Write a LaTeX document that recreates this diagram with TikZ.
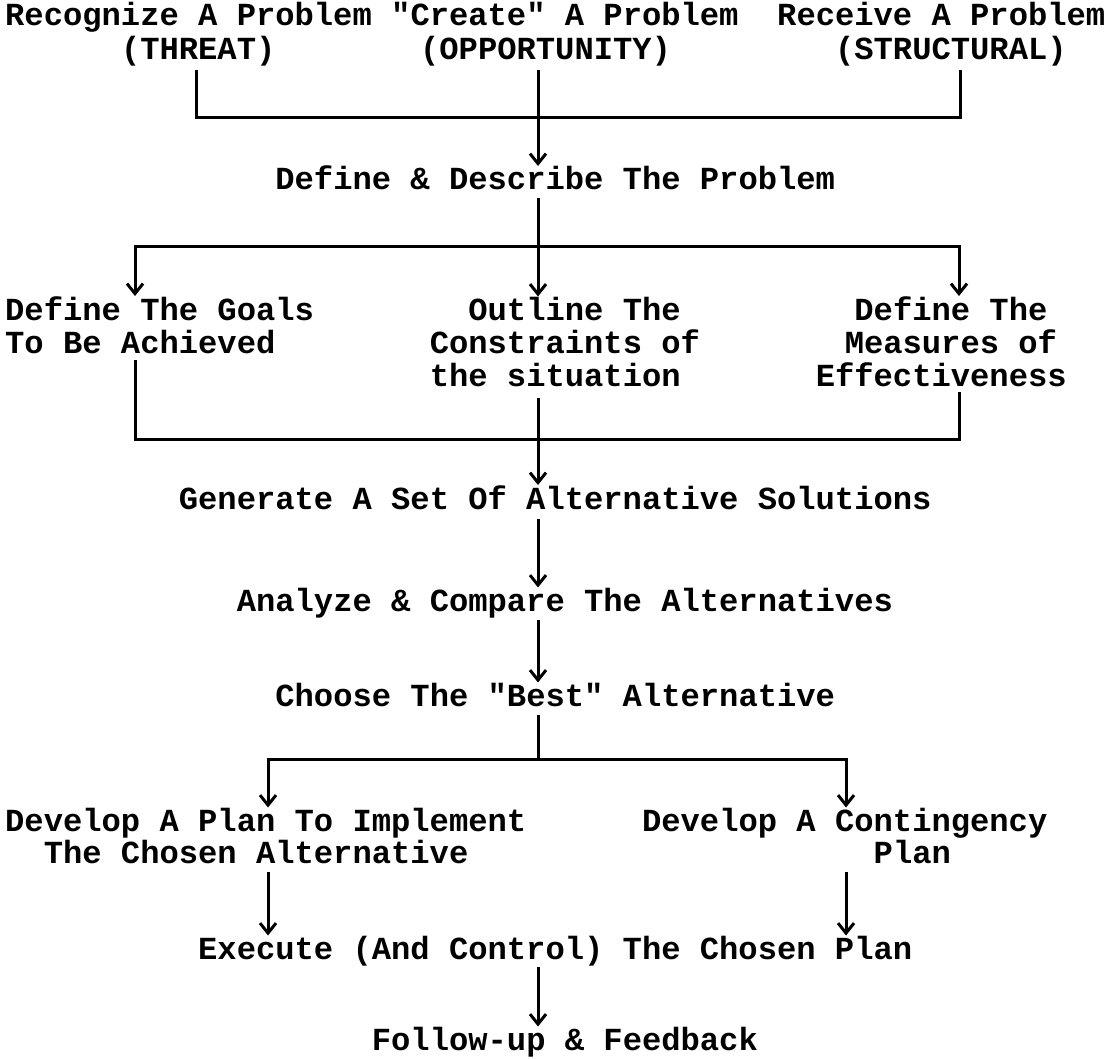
\documentclass[tikz,border=0pt]{standalone}
\usepackage{fontspec}
\newfontfamily\tw{Liberation Mono}
\usetikzlibrary{arrows.meta}
\begin{document}
\begin{tikzpicture}[x=1pt,y=-1pt,
  txt/.style={inner sep=0pt, anchor=base west,
    font=\tw\bfseries\fontsize{32.16pt}{36pt}\selectfont},
  ln/.style={line width=3pt, line cap=butt, line join=miter},
  tip/.tip={Straight Barb[length=10pt,width=16pt]},
  arr/.style={ln, -tip},
  biarr/.style={ln, tip-tip}]
\def\xo{5}\def\cw{19.3}
\useasboundingbox (0,0) rectangle (1111,1059);

% typed labels, placed on a monospaced column grid
\node[txt] (rec) at ({\xo+\cw*0},26)  {Recognize A Problem};
\node[txt] (cre) at ({\xo+\cw*20},26) {"Create" A Problem};
\node[txt] (rcv) at ({\xo+\cw*40},26) {Receive A Problem};
\node[txt] (thr) at ({\xo+\cw*6},60)   {(THREAT)};
\node[txt] (opp) at ({\xo+\cw*21.5},60) {(OPPORTUNITY)};
\node[txt] (str) at ({\xo+\cw*43},60)  {(STRUCTURAL)};

\node[txt] (def) at ({\xo+\cw*14},190) {Define \& Describe The Problem};

\node[txt] (goalA) at ({\xo+\cw*0},320) {Define The Goals};
\node[txt] (goalB) at ({\xo+\cw*0},353) {To Be Achieved};
\node[txt] (conA) at ({\xo+\cw*24},320) {Outline The};
\node[txt] (conB) at ({\xo+\cw*22},353) {Constraints of};
\node[txt] (conC) at ({\xo+\cw*22},386) {the situation};
\node[txt] (meaA) at ({\xo+\cw*44},320)   {Define The};
\node[txt] (meaB) at ({\xo+\cw*43.5},353) {Measures of};
\node[txt] (meaC) at ({\xo+\cw*42},386)   {Effectiveness};

\node[txt] (gen) at ({\xo+\cw*9},509)  {Generate A Set Of Alternative Solutions};
\node[txt] (ana) at ({\xo+\cw*12},611) {Analyze \& Compare The Alternatives};
\node[txt] (cho) at ({\xo+\cw*14},706) {Choose The "Best" Alternative};

\node[txt] (plnA) at ({\xo+\cw*0},831)  {Develop A Plan To Implement};
\node[txt] (plnB) at ({\xo+\cw*2},863)  {The Chosen Alternative};
\node[txt] (cntA) at ({\xo+\cw*33},831) {Develop A Contingency};
\node[txt] (cntB) at ({\xo+\cw*45},863) {Plan};

\node[txt] (exe) at ({\xo+\cw*10},959) {Execute (And Control) The Chosen Plan};
\node[txt] (fol) at ({\xo+\cw*19},1050) {Follow-up \& Feedback};

% columns and junction bars of the connectors
\coordinate (spine) at (538,0);
\coordinate (colT)  at (196,0);
\coordinate (colTR) at (960,0);
\coordinate (colL)  at (135,0);
\coordinate (colR)  at (959,0);
\coordinate (colDL) at (268,0);
\coordinate (colDR) at (846,0);
\coordinate (barA) at (538,118);
\coordinate (barB) at (538,247);
\coordinate (barC) at (538,439);
\coordinate (barD) at (538,759);

% three sources merge into the problem definition
\draw[ln] ([yshift=-10pt]thr.base -| colT) |- (barA) -| ([yshift=-10pt]str.base -| colTR);
\draw[arr] ([yshift=-10pt]opp.base -| spine) -- (def.north -| spine);

% definition fans out to goals, constraints and measures
\draw[arr] ([yshift=-8pt]def.base -| spine) -- (conA.north -| spine);
\draw[biarr] (goalA.north -| colL) |- (barB) -| (meaA.north -| colR);

% the three merge into the alternatives
\draw[ln] ([yshift=-7pt]goalB.base -| colL) |- (barC) -| ([yshift=-6pt]meaC.base -| colR);
\draw[arr] ([yshift=-12pt]conC.base -| spine) -- (gen.north -| spine);

\draw[arr] ([yshift=-10pt]gen.base -| spine) -- (ana.north -| spine);
\draw[arr] ([yshift=-9pt]ana.base -| spine) -- (cho.north -| spine);

% choice splits into plan and contingency
\draw[ln] ([yshift=-9pt]cho.base -| spine) -- (barD);
\draw[biarr] (plnA.north -| colDL) |- (barD) -| (cntA.north -| colDR);

\draw[arr] ([yshift=-9pt]plnB.base -| colDL) -- (exe.north -| colDL);
\draw[arr] ([yshift=-9pt]cntB.base -| colDR) -- (exe.north -| colDR);
\draw[arr] ([yshift=-8pt]exe.base -| spine) -- (fol.north -| spine);
\end{tikzpicture}
\end{document}
